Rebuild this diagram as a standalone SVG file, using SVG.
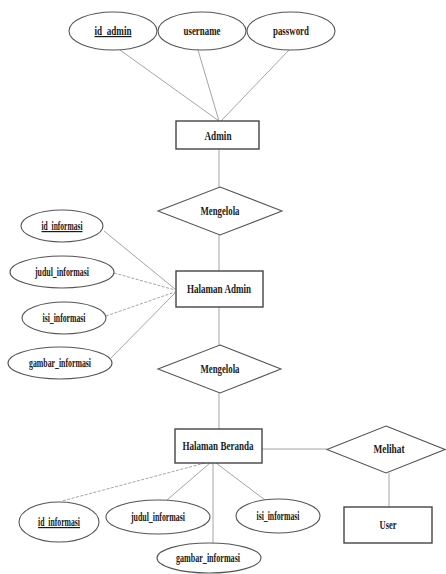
<svg xmlns="http://www.w3.org/2000/svg" width="446" height="574" viewBox="0 0 446 574">
<style>
.sh{fill:#fff;stroke:#555;stroke-width:1.1}
.rc{fill:#fff;stroke:#444;stroke-width:1.4}
.t{font-family:"Liberation Serif","Times New Roman",serif;font-weight:bold;font-size:12px;fill:#1a1a1a;text-anchor:middle}
.u{text-decoration:underline}
.c line{stroke:#9a9a9a;stroke-width:0.9}
.c .d{stroke-dasharray:3 1.5}
</style>
<rect width="446" height="574" fill="#fff"/>
<g class="c" id="connectors">
<line x1="120" y1="50" x2="219" y2="121"/>
<line x1="198" y1="50" x2="219" y2="121"/>
<line x1="289" y1="50" x2="221" y2="121"/>
<line x1="219" y1="149" x2="219" y2="187"/>
<line x1="219" y1="235" x2="219" y2="271"/>
<line x1="104" y1="231" x2="175" y2="289"/>
<line class="d" x1="114" y1="273" x2="175" y2="290"/>
<line class="d" x1="106" y1="316" x2="175" y2="292"/>
<line x1="111" y1="358" x2="175" y2="293"/>
<line x1="219" y1="307" x2="219" y2="345"/>
<line x1="219" y1="393" x2="219" y2="429"/>
<line x1="262" y1="449" x2="327" y2="449"/>
<line x1="389" y1="473" x2="389" y2="507"/>
<line class="d" x1="205" y1="463" x2="62" y2="501"/>
<line x1="210" y1="463" x2="167" y2="500"/>
<line x1="213" y1="463" x2="213" y2="543"/>
<line x1="216" y1="463" x2="265" y2="500"/>
</g>
<g id="id_admin"><ellipse class="sh" cx="113" cy="31" rx="44" ry="19"/><text class="t u" x="113" y="35" textLength="37" lengthAdjust="spacingAndGlyphs">id_admin</text></g>
<g id="username"><ellipse class="sh" cx="202" cy="31" rx="44" ry="19"/><text class="t" x="202" y="35" textLength="37" lengthAdjust="spacingAndGlyphs">username</text></g>
<g id="password"><ellipse class="sh" cx="291" cy="31" rx="44" ry="19"/><text class="t" x="291" y="35" textLength="36" lengthAdjust="spacingAndGlyphs">password</text></g>
<g id="admin"><rect class="rc" x="176" y="121" width="83" height="28"/><text class="t" x="218" y="140" textLength="27" lengthAdjust="spacingAndGlyphs">Admin</text></g>
<g id="mengelola1"><polygon class="sh" points="220,187 282,211 220,235 158,211"/><text class="t" x="220" y="215" textLength="39" lengthAdjust="spacingAndGlyphs">Mengelola</text></g>
<g id="halaman_admin"><rect class="rc" x="176" y="271" width="87" height="36"/><text class="t" x="219" y="293" textLength="64" lengthAdjust="spacingAndGlyphs">Halaman Admin</text></g>
<g id="ha_id_informasi"><ellipse class="sh" cx="62" cy="226" rx="41" ry="16"/><text class="t u" x="62" y="230" textLength="41" lengthAdjust="spacingAndGlyphs">id_informasi</text></g>
<g id="ha_judul_informasi"><ellipse class="sh" cx="62" cy="272" rx="52" ry="16"/><text class="t" x="62" y="276" textLength="54" lengthAdjust="spacingAndGlyphs">judul_informasi</text></g>
<g id="ha_isi_informasi"><ellipse class="sh" cx="64" cy="318" rx="42" ry="16"/><text class="t" x="64" y="322" textLength="43" lengthAdjust="spacingAndGlyphs">isi_informasi</text></g>
<g id="ha_gambar_informasi"><ellipse class="sh" cx="60" cy="363" rx="52" ry="16"/><text class="t" x="60" y="367" textLength="62" lengthAdjust="spacingAndGlyphs">gambar_informasi</text></g>
<g id="mengelola2"><polygon class="sh" points="220,345 281,369 220,393 158,369"/><text class="t" x="220" y="373" textLength="39" lengthAdjust="spacingAndGlyphs">Mengelola</text></g>
<g id="halaman_beranda"><rect class="rc" x="175" y="429" width="87" height="34"/><text class="t" x="218" y="450" textLength="71" lengthAdjust="spacingAndGlyphs">Halaman Beranda</text></g>
<g id="melihat"><polygon class="sh" points="386,426 445,449.5 386,473 327,449.5"/><text class="t" x="389" y="453" textLength="31" lengthAdjust="spacingAndGlyphs">Melihat</text></g>
<g id="user"><rect class="rc" x="344" y="507" width="88" height="36"/><text class="t" x="388" y="529" textLength="17" lengthAdjust="spacingAndGlyphs">User</text></g>
<g id="hb_id_informasi"><ellipse class="sh" cx="59" cy="522" rx="40" ry="20"/><text class="t u" x="59" y="526" textLength="42" lengthAdjust="spacingAndGlyphs">id_informasi</text></g>
<g id="hb_judul_informasi"><ellipse class="sh" cx="158" cy="517" rx="52" ry="17"/><text class="t" x="158" y="521" textLength="54" lengthAdjust="spacingAndGlyphs">judul_informasi</text></g>
<g id="hb_isi_informasi"><ellipse class="sh" cx="278" cy="516" rx="42" ry="17"/><text class="t" x="278" y="520" textLength="43" lengthAdjust="spacingAndGlyphs">isi_informasi</text></g>
<g id="hb_gambar_informasi"><ellipse class="sh" cx="209" cy="558" rx="52" ry="15"/><text class="t" x="208" y="562" textLength="64" lengthAdjust="spacingAndGlyphs">gambar_informasi</text></g>
</svg>
